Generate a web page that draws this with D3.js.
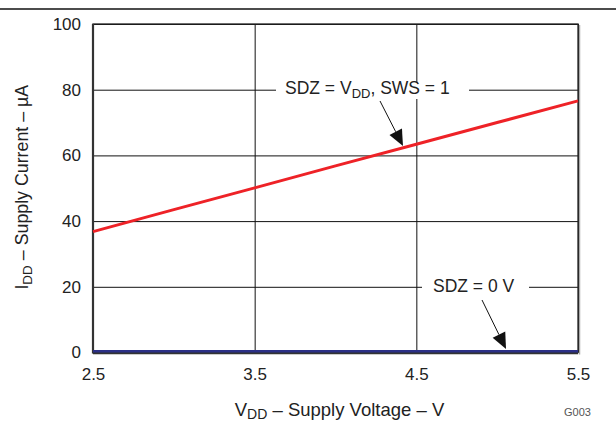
<!DOCTYPE html>
<html><head><meta charset="utf-8">
<script src="https://cdn.jsdelivr.net/npm/d3@7"></script>
<style>body{margin:0;background:#fff}svg{display:block}text{font-family:"Liberation Sans",Arial,sans-serif;fill:#222}</style>
</head><body>
<script>
const voltage = [2.5, 3.0, 3.5, 4.0, 4.5, 5.0, 5.5];
const currentActive = [36.8, 43.5, 50.1, 56.8, 63.4, 70.0, 76.6];
const currentShutdown = [0.3, 0.3, 0.3, 0.3, 0.3, 0.3, 0.3];
const xTicks = [2.5, 3.5, 4.5, 5.5];
const yTicks = [0, 20, 40, 60, 80, 100];

const W = 616, H = 421;
const m = {l: 93, r: 578, t: 24, b: 352.5};
const svg = d3.select("body").append("svg").attr("width", W).attr("height", H);
const x = d3.scaleLinear().domain([2.5, 5.5]).range([m.l, m.r]);
const y = d3.scaleLinear().domain([0, 100]).range([m.b, m.t]);

svg.append("line").attr("x1", 0).attr("x2", W).attr("y1", 9).attr("y2", 9).attr("stroke", "#111").attr("stroke-width", 1.5);

const gy = svg.append("g").attr("class", "yaxis").attr("transform", `translate(${m.l},0)`)
  .call(d3.axisLeft(y).tickValues(yTicks).tickSize(-(m.r - m.l)).tickFormat(d => String(d)).tickPadding(12));
gy.attr("font-size", 17);
gy.select(".domain").remove();
gy.selectAll(".tick line").attr("stroke", "#111").attr("stroke-width", 1);
gy.selectAll(".tick text").attr("font-size", 17).style("font-size", "17px").attr("fill", "#222");

const gx = svg.append("g").attr("class", "xaxis").attr("transform", `translate(0,${m.b})`)
  .call(d3.axisBottom(x).tickValues(xTicks).tickSize(-(m.b - m.t)).tickFormat(d3.format(".1f")).tickPadding(12));
gx.attr("font-size", 17);
gx.select(".domain").remove();
gx.selectAll(".tick line").attr("stroke", "#111").attr("stroke-width", 1);
gx.selectAll(".tick text").attr("font-size", 17).style("font-size", "17px").attr("fill", "#222").attr("y", 27).attr("dy", 0);

svg.append("line").attr("x1", m.r + 1.5).attr("x2", m.r + 1.5).attr("y1", m.t + 1).attr("y2", m.b + 2).attr("stroke", "#aaa").attr("stroke-width", 1.5);
svg.append("rect").attr("x", m.l).attr("y", m.t).attr("width", m.r - m.l).attr("height", m.b - m.t)
  .attr("fill", "none").attr("stroke", "#222").attr("stroke-width", 1.3);
svg.append("line").attr("x1", m.l).attr("x2", m.l).attr("y1", m.t).attr("y2", m.b + 1).attr("stroke", "#333").attr("stroke-width", 2.2);

const ann = svg.append("g");
ann.append("rect").attr("x", 276).attr("y", 83).attr("width", 193).attr("height", 16).attr("fill", "#fff");
ann.append("rect").attr("x", 422).attr("y", 281).attr("width", 107).attr("height", 16).attr("fill", "#fff");

const line = d3.line().x((d, i) => x(voltage[i])).y(d => y(d));
svg.append("path").datum(currentActive).attr("d", line).attr("fill", "none").attr("stroke", "#ee2227").attr("stroke-width", 3);
svg.append("path").datum(currentShutdown).attr("d", line).attr("fill", "none").attr("stroke", "#2b2f86").attr("stroke-width", 3);
svg.append("line").attr("x1", m.l).attr("x2", m.r).attr("y1", m.b + 0.8).attr("y2", m.b + 0.8).attr("stroke", "#333").attr("stroke-width", 1.8);

const t1 = ann.append("text").attr("x", 285).attr("y", 93.5).style("font-size", "17.5px");
t1.append("tspan").text("SDZ = V");
t1.append("tspan").style("font-size", "13px").attr("dy", 4).text("DD");
t1.append("tspan").attr("dy", -4).text(", SWS = 1");
ann.append("text").attr("x", 433).attr("y", 292).style("font-size", "17.5px").text("SDZ = 0 V");

function arrow(x0, y0, x1, y1) {
  const a = Math.atan2(y1 - y0, x1 - x0), L = 16, w = 7;
  const bx = x1 - L * Math.cos(a), by = y1 - L * Math.sin(a);
  ann.append("line").attr("x1", x0).attr("y1", y0).attr("x2", bx).attr("y2", by).attr("stroke", "#111").attr("stroke-width", 1);
  const px = -Math.sin(a) * w, py = Math.cos(a) * w;
  ann.append("path").attr("d", `M${x1},${y1}L${bx + px},${by + py}L${bx - px},${by - py}Z`).attr("fill", "#111");
}
arrow(380, 101, 403, 146);
arrow(482, 300, 506, 349);

const xt = svg.append("text").attr("x", (m.l + m.r) / 2 + 4).attr("y", 416).attr("text-anchor", "middle").style("font-size", "18.5px");
xt.append("tspan").text("V");
xt.append("tspan").style("font-size", "14px").attr("dy", 3).text("DD");
xt.append("tspan").attr("dy", -3).text(" – Supply Voltage – V");

const yt = svg.append("text").attr("transform", `translate(28,${(m.t + m.b) / 2 - 1}) rotate(-90)`).attr("text-anchor", "middle").style("font-size", "17.8px");
yt.append("tspan").text("I");
yt.append("tspan").style("font-size", "13.5px").attr("dy", 4).text("DD");
yt.append("tspan").attr("dy", -4).text(" – Supply Current – µA");

svg.append("text").attr("x", 564).attr("y", 416).style("font-size", "11px").style("fill", "#555").text("G003");
</script>
</body></html>
